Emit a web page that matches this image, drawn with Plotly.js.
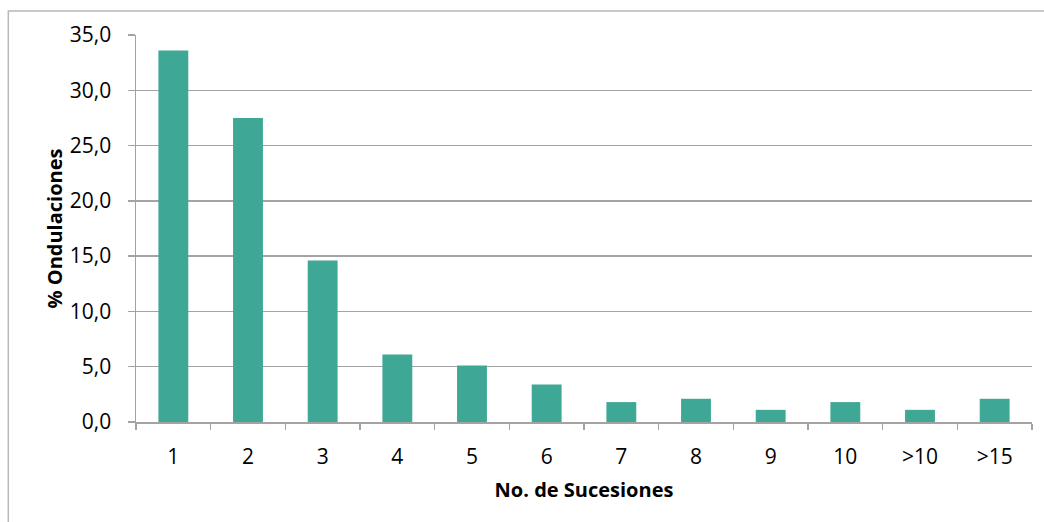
<!DOCTYPE html>
<html>
<head>
<meta charset="utf-8">
<script src="https://cdn.plot.ly/plotly-3.0.1.min.js"></script>
<style>
  html, body { margin: 0; padding: 0; background: #fff; }
  #chart { width: 1044px; height: 522px; }
</style>
</head>
<body>
<div id="chart"></div>
<script>
const categories = ["1", "2", "3", "4", "5", "6", "7", "8", "9", "10", ">10", ">15"];
const percentOndulaciones = [33.6, 27.5, 14.6, 6.1, 5.1, 3.4, 1.8, 2.1, 1.1, 1.8, 1.1, 2.1];
const xTitle = "No. de Sucesiones";
const yTitle = "% Ondulaciones";

const fontFamily = "'Open Sans', 'Noto Sans', sans-serif";
const gridColor = "#a3a3a3";

const trace = {
  type: "bar",
  x: categories,
  y: percentOndulaciones,
  marker: { color: "#3fa796", line: { width: 0 } },
  hoverinfo: "x+y"
};

const layout = {
  width: 1044,
  height: 522,
  margin: { l: 136, r: 12, t: 35, b: 100, pad: 0 },
  paper_bgcolor: "#ffffff",
  plot_bgcolor: "#ffffff",
  separators: ",.",
  bargap: 0.6,
  showlegend: false,
  font: { family: fontFamily, size: 21, color: "#000" },
  xaxis: {
    type: "category",
    automargin: false,
    tickson: "boundaries",
    ticks: "outside",
    ticklen: 6,
    tickwidth: 1.5,
    tickcolor: gridColor,
    showline: true,
    linecolor: gridColor,
    linewidth: 1.5,
    showgrid: false,
    ticklabelstandoff: 15,
    tickfont: { family: fontFamily, size: 21, color: "#000" },
    title: { text: xTitle, font: { family: fontFamily, size: 20, color: "#000", weight: "bold" }, standoff: 14 }
  },
  yaxis: {
    range: [0, 35],
    automargin: false,
    dtick: 5,
    tick0: 0,
    tickformat: ".1f",
    ticks: "outside",
    ticklen: 7,
    tickwidth: 1.5,
    tickcolor: gridColor,
    showline: true,
    linecolor: gridColor,
    linewidth: 1.5,
    showgrid: true,
    gridcolor: gridColor,
    gridwidth: 1.5,
    zeroline: false,
    tickfont: { family: fontFamily, size: 21, color: "#000" },
    ticklabelstandoff: 12,
    title: { text: yTitle, font: { family: fontFamily, size: 20, color: "#000", weight: "bold" }, standoff: 2 }
  },
  shapes: [
    {
      type: "rect", xref: "paper", yref: "paper",
      x0: -0.1425, x1: 1.05, y0: -0.40, y1: 1.062,
      line: { color: "#b8b8b8", width: 1.5 }, fillcolor: "rgba(0,0,0,0)", layer: "below"
    }
  ]
};

Plotly.newPlot("chart", [trace], layout, { displayModeBar: false, staticPlot: true });
</script>
</body>
</html>
